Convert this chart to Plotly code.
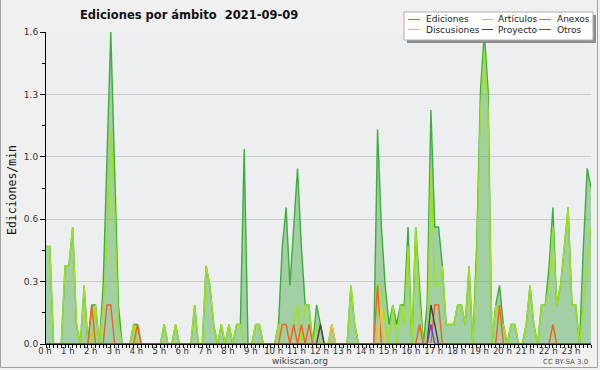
import plotly.graph_objects as go

# 10-minute buckets over the day (index 0 = 00:00, 143 = 23:50)
minutes = list(range(0, 1440, 10))
hour_labels = [f"{h} h" for h in range(24)]
y_tick_values = [0, 0.32, 0.64, 0.96, 1.28, 1.6]
y_tick_labels = ["0.0", "0.3", "0.6", "1.0", "1.3", "1.6"]

ediciones = [
    0.5, 0.5, 0, 0, 0, 0.4, 0.4, 0.6, 0.1, 0, 0.3, 0,
    0.2, 0.2, 0, 0.3, 0.9, 1.6, 0.9, 0.2, 0, 0, 0, 0.1,
    0.1, 0, 0, 0, 0, 0, 0, 0.1, 0, 0, 0.1, 0,
    0, 0, 0, 0.2, 0, 0, 0.4, 0.3, 0.1, 0, 0.1, 0,
    0.1, 0, 0.1, 0.1, 1.0, 0, 0, 0.1, 0.1, 0, 0, 0,
    0, 0.1, 0.5, 0.7, 0.3, 0.6, 0.9, 0.5, 0.2, 0.2, 0, 0.2,
    0.1, 0, 0, 0.1, 0, 0, 0, 0, 0.3, 0.1, 0, 0,
    0, 0, 0, 1.1, 0.6, 0.3, 0.1, 0.2, 0.1, 0.2, 0.2, 0.6,
    0, 0.6, 0.3, 0, 0.2, 1.2, 0.6, 0.6, 0.4, 0.1, 0.1, 0.1,
    0.2, 0.2, 0.1, 0.4, 0, 0.5, 1.3, 1.6, 1.3, 0, 0.2, 0.3,
    0.1, 0, 0.1, 0.1, 0, 0, 0.1, 0.3, 0.1, 0, 0.2, 0.2,
    0.4, 0.7, 0.2, 0.3, 0.5, 0.7, 0.2, 0.2, 0, 0.5, 0.9, 0.8,
]

articulos = [
    0.5, 0.5, 0, 0, 0, 0.4, 0.4, 0.6, 0.1, 0, 0.3, 0,
    0, 0.2, 0, 0.2, 0.5, 1.1, 0.7, 0.1, 0, 0, 0, 0.1,
    0, 0, 0, 0, 0, 0, 0, 0.1, 0, 0, 0.1, 0,
    0, 0, 0, 0.2, 0, 0, 0.4, 0.3, 0.1, 0, 0.1, 0,
    0.1, 0, 0.1, 0.1, 0, 0, 0, 0.1, 0.1, 0, 0, 0,
    0, 0.1, 0, 0, 0, 0.1, 0.2, 0, 0.2, 0.2, 0, 0.1,
    0, 0, 0, 0, 0, 0, 0, 0, 0.3, 0.1, 0, 0,
    0, 0, 0, 0.3, 0.3, 0.1, 0, 0.2, 0, 0.2, 0.1, 0.5,
    0, 0.6, 0.2, 0, 0, 0.9, 0.3, 0.3, 0.4, 0.1, 0.1, 0.1,
    0.2, 0.2, 0.1, 0.4, 0, 0.4, 1.2, 1.5, 1.2, 0, 0.2, 0.1,
    0.1, 0, 0.1, 0.1, 0, 0, 0.1, 0.3, 0.1, 0, 0.2, 0.2,
    0.3, 0.6, 0.2, 0.3, 0.5, 0.7, 0.2, 0.2, 0, 0.2, 0.4, 0.6,
]

anexos = [
    0, 0, 0, 0, 0, 0, 0, 0, 0, 0, 0, 0,
    0.2, 0, 0, 0, 0.2, 0.2, 0, 0, 0, 0, 0, 0,
    0.1, 0, 0, 0, 0, 0, 0, 0, 0, 0, 0, 0,
    0, 0, 0, 0, 0, 0, 0, 0, 0, 0, 0, 0,
    0, 0, 0, 0, 0, 0, 0, 0, 0, 0, 0, 0,
    0, 0, 0.1, 0.1, 0, 0.1, 0, 0.1, 0, 0.1, 0, 0,
    0, 0, 0, 0, 0, 0, 0, 0, 0, 0, 0, 0,
    0, 0, 0, 0.3, 0, 0, 0, 0, 0, 0, 0, 0,
    0, 0, 0.1, 0, 0, 0, 0.2, 0.2, 0, 0, 0, 0,
    0, 0, 0, 0, 0, 0, 0, 0, 0, 0, 0, 0.2,
    0, 0, 0, 0, 0, 0, 0, 0, 0, 0, 0, 0,
    0, 0.1, 0, 0, 0, 0, 0, 0, 0, 0, 0, 0,
]

discusiones = [
    0, 0, 0, 0, 0, 0, 0, 0, 0, 0, 0, 0,
    0, 0, 0, 0, 0, 0, 0, 0, 0, 0, 0, 0,
    0, 0, 0, 0, 0, 0, 0, 0, 0, 0, 0, 0,
    0, 0, 0, 0, 0, 0, 0, 0, 0, 0, 0, 0,
    0, 0, 0, 0, 0, 0, 0, 0, 0, 0, 0, 0,
    0, 0, 0, 0, 0, 0, 0, 0, 0, 0, 0, 0,
    0, 0, 0, 0.1, 0, 0, 0, 0, 0, 0, 0, 0,
    0, 0, 0, 0, 0.2, 0, 0, 0, 0, 0, 0, 0,
    0, 0, 0, 0, 0, 0, 0, 0, 0, 0, 0, 0,
    0, 0, 0, 0, 0, 0, 0, 0, 0, 0, 0, 0,
    0, 0, 0, 0, 0, 0, 0, 0, 0, 0, 0, 0,
    0, 0, 0, 0, 0, 0, 0, 0, 0, 0, 0, 0,
]

proyecto = [
    0, 0, 0, 0, 0, 0, 0, 0, 0, 0, 0, 0,
    0, 0, 0, 0, 0, 0, 0, 0, 0, 0, 0, 0,
    0, 0, 0, 0, 0, 0, 0, 0, 0, 0, 0, 0,
    0, 0, 0, 0, 0, 0, 0, 0, 0, 0, 0, 0,
    0, 0, 0, 0, 0, 0, 0, 0, 0, 0, 0, 0,
    0, 0, 0, 0, 0, 0, 0, 0, 0, 0, 0, 0,
    0.1, 0, 0, 0, 0, 0, 0, 0, 0, 0, 0, 0,
    0, 0, 0, 0, 0, 0, 0, 0, 0, 0, 0, 0,
    0, 0, 0, 0, 0, 0.2, 0.1, 0, 0, 0, 0, 0,
    0, 0, 0, 0, 0, 0, 0, 0, 0, 0, 0, 0,
    0, 0, 0, 0, 0, 0, 0, 0, 0, 0, 0, 0,
    0, 0, 0, 0, 0, 0, 0, 0, 0, 0, 0, 0,
]

otros = [
    0, 0, 0, 0, 0, 0, 0, 0, 0, 0, 0, 0,
    0, 0, 0, 0, 0, 0, 0, 0, 0, 0, 0, 0,
    0, 0, 0, 0, 0, 0, 0, 0, 0, 0, 0, 0,
    0, 0, 0, 0, 0, 0, 0, 0, 0, 0, 0, 0,
    0, 0, 0, 0, 0, 0, 0, 0, 0, 0, 0, 0,
    0, 0, 0, 0, 0, 0, 0, 0, 0, 0, 0, 0,
    0, 0, 0, 0, 0, 0, 0, 0, 0, 0, 0, 0,
    0, 0, 0, 0, 0, 0, 0, 0, 0, 0, 0, 0,
    0, 0, 0, 0, 0, 0.1, 0, 0, 0, 0, 0, 0,
    0, 0, 0, 0, 0, 0, 0, 0, 0, 0, 0, 0,
    0, 0, 0, 0, 0, 0, 0, 0, 0, 0, 0, 0,
    0, 0, 0, 0, 0, 0, 0, 0, 0, 0, 0, 0,
]

series_names = ["Ediciones", "Artículos", "Anexos", "Discusiones", "Proyecto", "Otros"]
series_colors = ["#3cae3c", "#9ee21e", "#f06420", "#f2c830", "#444444", "#8a2be2"]

hours = [m / 60 for m in minutes]

fig = go.Figure()
fig.add_trace(go.Scatter(
    x=hours, y=ediciones, mode="lines", name=series_names[0],
    line=dict(color=series_colors[0], width=1.4),
    fill="tozeroy", fillcolor="rgba(60,165,60,0.42)", showlegend=False,
))
for name, vals, col in zip(series_names[1:],
                           [articulos, anexos, discusiones, proyecto, otros],
                           series_colors[1:]):
    fig.add_trace(go.Scatter(
        x=hours, y=vals, mode="lines", name=name,
        line=dict(color=col, width=1.4), showlegend=False,
    ))

W, H = 600, 370
L, R, T, B = 46, 9, 32, 26
pw, ph = W - L - R, H - T - B


def px(xp):
    return (xp - L) / pw


def py(yp):
    return (H - B - yp) / ph


# Manual legend (box with shadow, short line samples, labels)
shapes = [
    dict(type="rect", xref="paper", yref="paper", x0=px(0.5), x1=px(597.5),
         y0=py(367.5), y1=py(-2), line=dict(color="#a0a0a0", width=1),
         fillcolor="rgba(0,0,0,0)", layer="above"),
    dict(type="rect", xref="paper", yref="paper", x0=px(407), x1=px(596),
         y0=py(43), y1=py(15), line=dict(width=0), fillcolor="#8c8c8c", layer="above"),
    dict(type="rect", xref="paper", yref="paper", x0=px(404), x1=px(593),
         y0=py(40), y1=py(12), line=dict(color="#b0b0b0", width=1), fillcolor="#ffffff",
         layer="above"),
]
annotations = []
legend_cols = [(408, 420, 424), (482, 493, 496), (539, 551, 555)]
legend_rows = [19.5, 29.5]
for k, (name, col) in enumerate(zip(series_names, series_colors)):
    r, c = divmod(k, 3)
    x0, x1, xt = legend_cols[c]
    yy = legend_rows[r]
    shapes.append(dict(type="line", xref="paper", yref="paper", x0=px(x0), x1=px(x1),
                       y0=py(yy), y1=py(yy), line=dict(color=col, width=1), layer="above"))
    annotations.append(dict(xref="paper", yref="paper", x=px(xt), y=py(yy), text=name,
                            showarrow=False, xanchor="left", yanchor="middle",
                            font=dict(family="DejaVu Sans", size=9, color="#222")))

annotations += [
    dict(xref="paper", yref="paper", x=px(189), y=py(15),
         text="<b>Ediciones por ámbito\u00a0\u00a02021-09-09</b>", showarrow=False,
         xanchor="center", yanchor="middle",
         font=dict(family="DejaVu Sans", size=11.5, color="#111")),
    dict(xref="paper", yref="paper", x=px(12), y=py(190), text="Ediciones/min",
         textangle=-90, showarrow=False, xanchor="center", yanchor="middle",
         font=dict(family="DejaVu Sans Mono", size=11.5, color="#111")),
    dict(xref="paper", yref="paper", x=px(300), y=py(361), text="wikiscan.org",
         showarrow=False, xanchor="center", yanchor="middle",
         font=dict(family="DejaVu Sans", size=9, color="#444")),
    dict(xref="paper", yref="paper", x=px(590), y=py(362), text="CC BY-SA 3.0",
         showarrow=False, xanchor="right", yanchor="middle",
         font=dict(family="DejaVu Sans", size=7, color="#555")),
]

fig.update_layout(
    width=W, height=H,
    margin=dict(l=L, r=R, t=T, b=B, pad=0),
    paper_bgcolor="#f0f0f0", plot_bgcolor="#eceef0",
    showlegend=False,
    shapes=shapes, annotations=annotations,
    xaxis=dict(
        range=[0, hours[-1]], tickvals=list(range(24)), ticktext=hour_labels,
        ticks="outside", ticklen=3, tickcolor="#000", tickwidth=1,
        ticklabelstandoff=-4, ticklabelshift=-1,
        showgrid=False, zeroline=False, showline=True, linecolor="#000", linewidth=1,
        tickfont=dict(family="DejaVu Sans", size=8.5, color="#333"),
        minor=dict(tickvals=hours, ticks="outside", ticklen=3, tickcolor="#000",
                   showgrid=False),
        fixedrange=True, automargin=False,
    ),
    yaxis=dict(
        range=[0, 1.6], tickvals=y_tick_values, ticktext=y_tick_labels,
        ticks="outside", ticklen=5, tickcolor="#000",
        showgrid=True, gridcolor="#cccccc", gridwidth=1, zeroline=False,
        showline=True, linecolor="#000", linewidth=1,
        tickfont=dict(family="DejaVu Sans", size=9, color="#333"),
        minor=dict(tickvals=[0.16, 0.48, 0.8, 1.12, 1.44], ticks="outside",
                   ticklen=3, tickcolor="#000", showgrid=False),
        fixedrange=True, automargin=False,
    ),
)

fig.write_html(
    "out.html",
    config={"displayModeBar": False},
    post_script="document.body.style.margin='0';document.body.style.padding='0';"
                "document.documentElement.style.overflow='hidden';",
)
